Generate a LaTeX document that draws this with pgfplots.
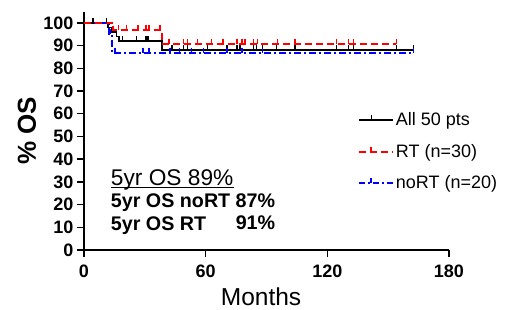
\documentclass[border=0pt]{standalone}
\usepackage{fontspec}
\setmainfont{Liberation Sans}
\usepackage{pgfplots}
\pgfplotsset{compat=1.18}
\definecolor{kmred}{RGB}{255,0,0}
\definecolor{kmblue}{RGB}{0,0,255}
\begin{document}
\begin{tikzpicture}
\useasboundingbox (-84pt,-60pt) rectangle (423pt,250pt);
\begin{axis}[
  scale only axis, width=365pt, height=238pt,
  xmin=0, xmax=180, ymin=0, ymax=104.8,
  axis lines=left,
  axis line style={-, line width=1.5pt, black},
  xtick={0,60,120,180}, ytick={0,10,...,100},
  tick align=outside, major tick length=7pt,
  tick style={line width=1.5pt, black},
  minor tick num=0,
  /pgf/number format/assume math mode=true,
  ticklabel style={font=\bfseries\fontsize{18}{20}\selectfont},
  xticklabel style={yshift=-4pt},
  xlabel={Months},
  xlabel style={at={(axis description cs:0.485,-0.235)}, anchor=base, font=\fontsize{24.5}{26}\selectfont},
  ylabel={\% OS},
  ylabel style={at={(axis description cs:-0.132,0.5)}, anchor=base, font=\bfseries\fontsize{26}{28}\selectfont},
  clip=false,
  legend style={at={(axis cs:135,61.4)}, anchor=north west, draw=none, fill=none,
    font=\fontsize{18}{20}\selectfont, row sep=13pt, inner sep=0pt},
  legend cell align=left,
  legend image code/.code={
    \path (0pt,0pt) -- (34pt,0pt);
    \draw[#1] (0pt,0pt) -- (25pt,0pt);
    \draw[#1,solid] (12.5pt,0pt) -- (12.5pt,5pt);
  },
]
% Kaplan-Meier curves
\addplot[const plot, black, line width=1.8pt, forget plot] coordinates {
  (0,100) (12,98) (13.6,96) (16,94) (17.4,92) (38.3,88) (162.5,88)};
\addplot[const plot, kmblue, line width=2pt, dash pattern=on 7pt off 3pt on 2pt off 3pt, forget plot] coordinates {
  (0,100) (12.4,95) (14,86.9) (162.5,86.9)};
\addplot[const plot, kmred, line width=2pt, dash pattern=on 7pt off 4pt, forget plot] coordinates {
  (0,100) (14.5,96.7) (38.3,90.8) (154,90.8)};
% censor marks
\addplot[only marks, black, mark=|, mark size=2.5pt, mark options={solid, line width=1.5pt, yshift=2.5pt}, forget plot] coordinates {
  (4.5,100) (11,100)
  (19,92) (26,92) (30.5,92) (31.6,92)
  (43.5,88) (49,88) (51,88) (61,88) (70.5,88) (75.5,88) (77,88) (83.5,88) (85,88) (88,88) (95,88) (104,88) (124.5,88) (130.5,88) (133,88) (154,88) (162.5,88)};
\addplot[only marks, kmblue, mark=|, mark size=2.5pt, mark options={solid, line width=1.5pt, yshift=2.5pt}, forget plot] coordinates {
  (13,95)
  (15.3,86.9) (29,86.9) (32,86.9) (42.5,86.9) (47,86.9) (53,86.9) (59,86.9) (70.5,86.9) (78,86.9) (88,86.9) (162.5,86.9)};
\addplot[only marks, kmred, mark=|, mark size=2.5pt, mark options={solid, line width=1.5pt, yshift=2.5pt}, forget plot] coordinates {
  (17,96.7) (21,96.7) (26.7,96.7) (30.5,96.7) (32,96.7) (37.5,96.7)
  (42,90.8) (49,90.8) (51,90.8) (56,90.8) (63,90.8) (68.6,90.8) (75.5,90.8) (78,90.8) (79.5,90.8) (83.5,90.8) (85.5,90.8) (95.5,90.8) (104,90.8) (124.5,90.8) (130.5,90.8) (133,90.8) (154,90.8)};
% legend
\addlegendimage{black, line width=1.8pt}
\addlegendentry{All 50 pts}
\addlegendimage{kmred, line width=2pt, dash pattern=on 7pt off 4pt}
\addlegendentry{RT (n=30)}
\addlegendimage{kmblue, line width=2pt, dash pattern=on 6pt off 3pt on 2pt off 3pt}
\addlegendentry{noRT (n=20)}
% annotations
\node[anchor=base west, inner sep=0pt, font=\fontsize{22.7}{25}\selectfont] (l1) at (axis cs:13.2,28.6) {5yr OS 89\%};
\draw[line width=1.2pt] ([yshift=-2.2pt]l1.base west) -- ([yshift=-2.2pt]l1.base east);
\node[anchor=base west, inner sep=0pt, font=\bfseries\fontsize{19.7}{22}\selectfont] (l2) at (axis cs:13.2,18.5) {5yr OS noRT 87\%};
\node[anchor=base west, inner sep=0pt, font=\bfseries\fontsize{19.7}{22}\selectfont] at (axis cs:13.2,8.8) {5yr OS RT};
\node[anchor=base east, inner sep=0pt, font=\bfseries\fontsize{19.7}{22}\selectfont] at ([yshift=-22pt]l2.base east) {91\%};
\end{axis}
\end{tikzpicture}
\end{document}
